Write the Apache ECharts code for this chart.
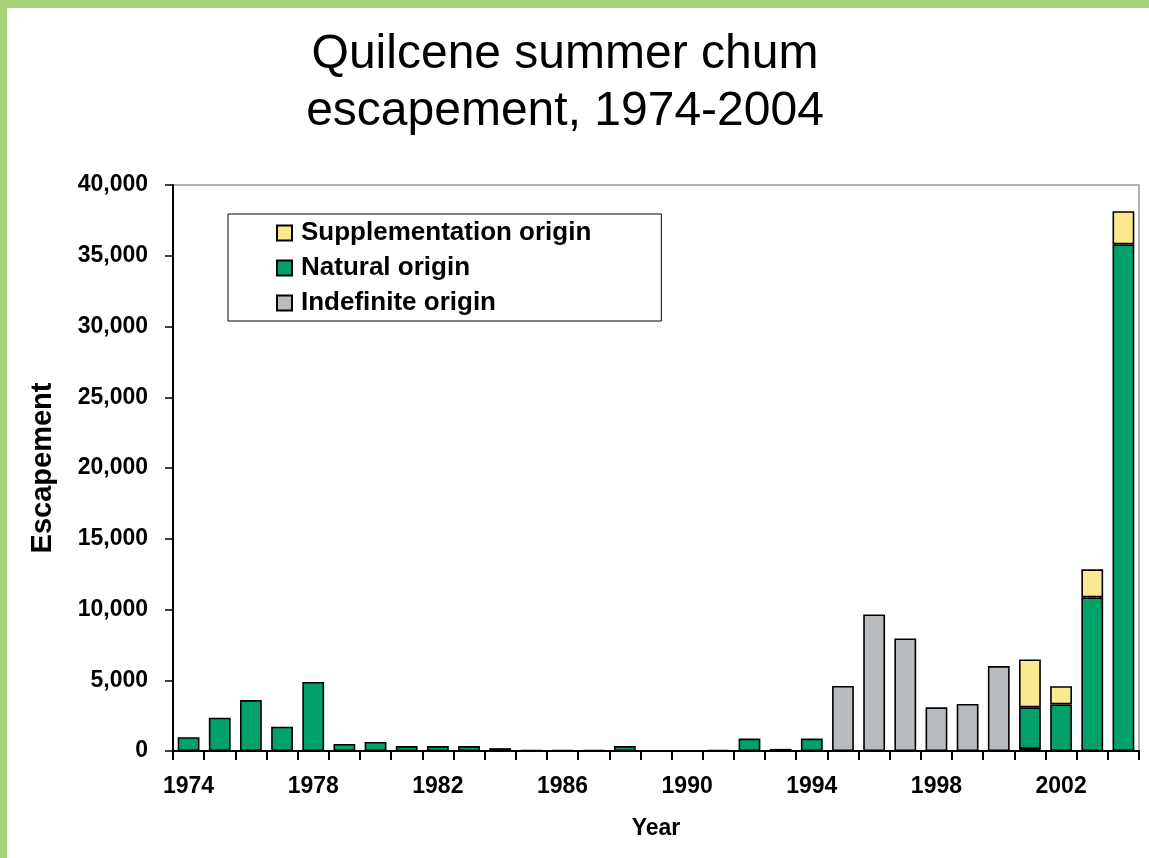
<!DOCTYPE html>
<html lang="en">
<head>
  <meta charset="utf-8">
  <title>Quilcene summer chum escapement</title>
  <script src="https://cdn.jsdelivr.net/npm/echarts@6/dist/echarts.min.js"></script>
</head>
<body style="margin:0">
<div id="container" style="width:1149px;height:858px;background:#fff"></div>
<script type="text/javascript">
  var years = ['1974','1975','1976','1977','1978','1979','1980','1981','1982','1983',
    '1984','1985','1986','1987','1988','1989','1990','1991','1992','1993',
    '1994','1995','1996','1997','1998','1999','2000','2001','2002','2003','2004'];

  // escapement by origin
  var indefinite = [null,null,null,null,null,null,null,null,null,null,
    null,null,null,null,null,null,null,null,null,null,
    null,4600,9650,7950,3090,3330,6000,150,null,null,null];
  var natural = [970,2350,3600,1720,4880,500,640,350,350,350,
    200,60,60,60,350,null,null,60,880,150,
    880,null,null,null,null,null,null,2940,3290,10860,35800];
  var supplementation = [null,null,null,null,null,null,null,null,null,null,
    null,null,null,null,null,null,null,null,null,null,
    null,null,null,null,null,null,null,3380,1290,1980,2350];

  var tickFont = { fontFamily: 'Liberation Sans', fontWeight: 'bold', fontSize: 23, color: '#000' };
  var border = { borderColor: '#000', borderWidth: 1.6 };

  var chart = echarts.init(document.getElementById('container'));
  var option = {
    backgroundColor: '#fff',
    animation: false,
    graphic: [
      { type: 'rect', shape: { x: 0, y: 0, width: 1149, height: 8 }, style: { fill: '#a8d277' } },
      { type: 'rect', shape: { x: 0, y: 0, width: 7, height: 858 }, style: { fill: '#a8d277' } }
    ],
    title: {
      text: 'Quilcene summer chum\nescapement, 1974-2004',
      left: 565,
      textAlign: 'center',
      top: 26,
      padding: 0,
      textStyle: {
        fontFamily: 'Liberation Sans',
        fontWeight: 'normal',
        fontSize: 48,
        lineHeight: 57,
        color: '#000'
      }
    },
    legend: {
      data: ['Supplementation origin', 'Natural origin', 'Indefinite origin'],
      orient: 'vertical',
      left: 228,
      top: 214,
      padding: [6, 70, 5, 48],
      itemGap: 9,
      itemWidth: 15,
      itemHeight: 15,
      icon: 'rect',
      borderColor: '#000',
      borderWidth: 1,
      backgroundColor: '#fff',
      textStyle: {
        fontFamily: 'Liberation Sans',
        fontWeight: 'bold',
        fontSize: 26,
        lineHeight: 26,
        color: '#000',
        padding: [0, 0, 0, 4]
      }
    },
    grid: {
      left: 173,
      right: 10,
      top: 185,
      bottom: 107,
      show: true,
      borderColor: '#9a9a9a',
      borderWidth: 1.5,
      containLabel: false
    },
    xAxis: {
      type: 'category',
      data: years,
      name: 'Year',
      nameLocation: 'middle',
      nameGap: 66,
      nameTextStyle: tickFont,
      axisLine: { lineStyle: { color: '#000', width: 2 } },
      axisTick: { show: true, interval: 0, length: 9, alignWithLabel: false, lineStyle: { color: '#000', width: 2 } },
      axisLabel: Object.assign({ interval: 3, margin: 24 }, tickFont),
      splitLine: { show: false }
    },
    yAxis: {
      type: 'value',
      min: 0,
      max: 40000,
      interval: 5000,
      name: 'Escapement',
      nameLocation: 'middle',
      nameGap: 116,
      nameTextStyle: {
        fontFamily: 'Liberation Sans',
        fontWeight: 'bold',
        fontSize: 29,
        color: '#000'
      },
      axisLine: { show: true, lineStyle: { color: '#000', width: 2 } },
      axisTick: { show: true, length: 8, lineStyle: { color: '#000', width: 1.5 } },
      axisLabel: Object.assign({
        margin: 25,
        formatter: function (v) { return v.toLocaleString('en-US'); }
      }, tickFont),
      splitLine: { show: false }
    },
    series: [
      {
        name: 'Indefinite origin',
        type: 'bar',
        stack: 'total',
        barWidth: '70%',
        data: indefinite,
        itemStyle: Object.assign({ color: '#b8bcbf' }, border)
      },
      {
        name: 'Natural origin',
        type: 'bar',
        stack: 'total',
        barWidth: '70%',
        data: natural,
        itemStyle: Object.assign({ color: '#00a26a' }, border)
      },
      {
        name: 'Supplementation origin',
        type: 'bar',
        stack: 'total',
        barWidth: '70%',
        data: supplementation,
        itemStyle: Object.assign({ color: '#fae991' }, border)
      }
    ]
  };
  chart.setOption(option);
</script>
</body>
</html>
